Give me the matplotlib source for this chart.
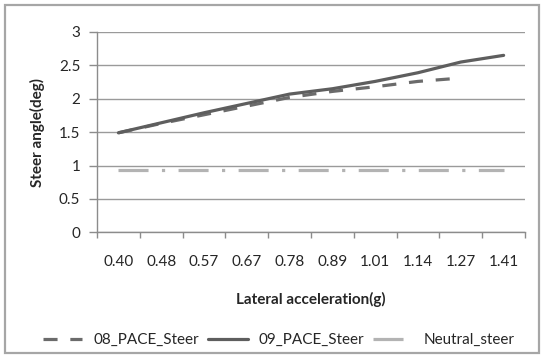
import matplotlib.pyplot as plt
from matplotlib.patches import Rectangle

categories = ['0.40', '0.48', '0.57', '0.67', '0.78', '0.89', '1.01', '1.14', '1.27', '1.41']
steer_08 = [1.49, 1.63, 1.76, 1.89, 2.02, 2.11, 2.18, 2.26, 2.31]
steer_09 = [1.49, 1.64, 1.79, 1.93, 2.07, 2.15, 2.26, 2.39, 2.55, 2.65]
neutral = [0.93, 0.93, 0.93, 0.93, 0.93, 0.93, 0.93, 0.93, 0.93, 0.93]
y_ticks = [0, 0.5, 1, 1.5, 2, 2.5, 3]
y_labels = ['0', '0.5', '1', '1.5', '2', '2.5', '3']

plt.rcParams['font.family'] = ['Lato', 'DejaVu Sans']

fig = plt.figure(figsize=(5.43, 3.57), dpi=100)
ax = fig.add_axes([0.1786, 0.3493, 0.7883, 0.5611])

# outer chart border
fig.patches.append(Rectangle((0.009, 0.012), 0.983, 0.974, transform=fig.transFigure,
                             fill=False, edgecolor='#a6a6a6', linewidth=1.6))

x = list(range(len(categories)))
lw = 2.3
ax.plot(x[:len(steer_08)], steer_08, color='#6b6b6b', lw=lw,
        linestyle=(0, (4.4, 4.0)), dash_capstyle='butt', label='08_PACE_Steer')
ax.plot(x, steer_09, color='#5e5e5e', lw=lw, solid_capstyle='round', label='09_PACE_Steer')
ax.plot(x, neutral, color='#b3b3b3', lw=lw,
        linestyle=(0, (9.4, 4.2, 1.0, 4.2)), dash_capstyle='butt', label='Neutral_steer')

ax.set_xlim(-0.5, len(categories) - 0.5)
ax.set_ylim(0, 3)
ax.set_xticks(x)
ax.set_xticklabels(categories)
ax.set_xticks([i - 0.5 for i in range(len(categories) + 1)], minor=True)
ax.tick_params(axis='x', which='major', length=0, pad=16, labelsize=11, labelcolor='#262626')
ax.tick_params(axis='x', which='minor', length=4, color='#8c8c8c', width=1)
ax.set_yticks(y_ticks)
ax.set_yticklabels(y_labels)
ax.tick_params(axis='y', length=6, color='#8c8c8c', width=1, pad=6, labelsize=11, labelcolor='#262626')

ax.grid(axis='y', color='#9a9a9a', linewidth=1)
ax.set_axisbelow(True)
for s in ['top', 'right']:
    ax.spines[s].set_visible(False)
for s in ['left', 'bottom']:
    ax.spines[s].set_color('#8c8c8c')
    ax.spines[s].set_linewidth(1)

ax.set_xlabel('Lateral acceleration(g)', fontsize=11, fontweight='bold', color='#262626', labelpad=17)
ax.set_ylabel('Steer angle(deg)', fontsize=11, fontweight='bold', color='#262626', labelpad=10)

fig.legend(loc='center', bbox_to_anchor=(0.513, 0.047), ncol=3, frameon=False,
           fontsize=11, handlelength=2.6, columnspacing=0.6, handletextpad=0.7,
           labelcolor='#262626')

plt.savefig('out.png', dpi=100)
